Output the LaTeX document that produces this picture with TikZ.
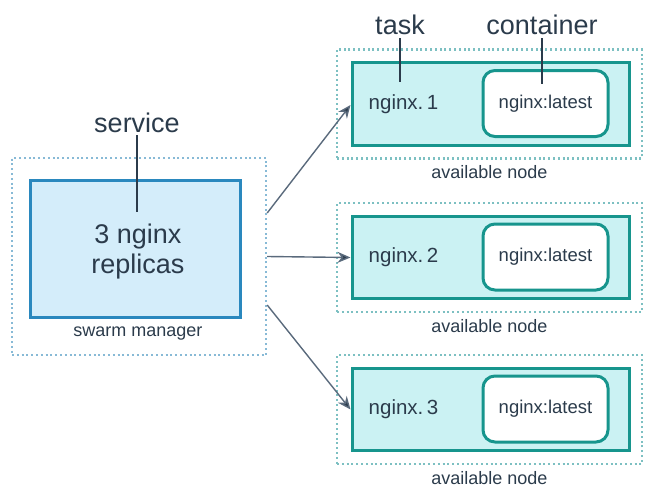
\documentclass[tikz,border=0pt]{standalone}
\usepackage{fontspec}
\setmainfont{Liberation Sans}
\usetikzlibrary{positioning,arrows.meta}

\definecolor{mgrdots}{HTML}{88BAD6}
\definecolor{nodedots}{HTML}{7DC0C2}
\definecolor{svcfill}{HTML}{D4EDFA}
\definecolor{svcline}{HTML}{2A88BE}
\definecolor{taskfill}{HTML}{CBF2F3}
\definecolor{taskline}{HTML}{17958D}
\definecolor{ink}{HTML}{2B3B4B}
\definecolor{wire}{HTML}{5A6A7C}

\tikzset{
  dotbox/.style={draw=#1, line width=2.4pt, dash pattern=on 2pt off 2.8pt,
    inner sep=0pt},
  svcbox/.style={draw=svcline, fill=svcfill, line width=3pt, inner sep=0pt},
  taskbox/.style={draw=taskline, fill=taskfill, line width=3pt, inner sep=0pt,
    minimum width=277pt, minimum height=82pt},
  contbox/.style={draw=taskline, fill=white, line width=3pt, rounded corners=12pt,
    inner sep=0pt, minimum width=125pt, minimum height=66pt,
    font=\fontsize{18.5}{20}\selectfont},
  biglabel/.style={font=\fontsize{27}{30}\selectfont, inner sep=3pt, anchor=base},
  smalllabel/.style={font=\fontsize{18}{20}\selectfont, inner sep=0pt},
  pointer/.style={draw=ink, line width=1.3pt},
  dispatch/.style={draw=wire, line width=1.4pt,
    -{Stealth[length=13pt,width=11pt,fill=ink]}},
}

\begin{document}
\begin{tikzpicture}[x=1pt,y=-1pt,text=ink]
  \useasboundingbox (0,0) rectangle (650,495);

  % swarm manager and its service
  \node[dotbox=mgrdots, minimum width=254pt, minimum height=197pt] (manager) at (139,256.5) {};
  \node[svcbox, minimum width=210pt, minimum height=137pt] (svc) at (135,248.5) {};
  \node[align=center, font=\fontsize{27}{30}\selectfont, inner sep=0pt] (svctext) at (138,252) {3 nginx\\replicas};
  \node[smalllabel] (mgrlabel) at (138,334) {swarm manager};

  \node[biglabel] (servicelbl) at (137,132) {service};
  \coordinate (svctip) at (137,212);
  \draw[pointer] (servicelbl.south) -- (svctip);

  % available nodes
  \foreach \i/\y in {1/104,2/257.5,3/409.5}{
    \node[dotbox=nodedots, minimum width=305pt, minimum height=109pt] (avail\i) at (489.5,\y) {};
    \node[taskbox] (task\i) at (490.5,\y) {};
    \node[contbox] (cont\i) at (545.5,\y-0.5) {nginx:latest};
    \node[font=\fontsize{20.5}{22}\selectfont, inner sep=0pt, right=18pt of task\i.west] (tasktext\i) {nginx.\,\i};
    \node[smalllabel, below=6pt of avail\i.south] (availlbl\i) {available node};
  }

  % task / container labels
  \node[biglabel] (tasklbl) at (400,35) {task};
  \coordinate (tasktip) at (400,82);
  \draw[pointer] (tasklbl.south) -- (tasktip);
  \node[biglabel] (contlbl) at (542,35) {container};
  \coordinate (conttip) at (542,84);
  \draw[pointer] (contlbl.south) -- (conttip);

  % scheduling arrows
  \draw[dispatch] ([yshift=43.5pt]manager.east) -- ([yshift=-1pt]task1.west);
  \draw[dispatch] (manager.east) -- (task2.west);
  \draw[dispatch] ([yshift=-48.5pt]manager.east) -- (task3.west);
\end{tikzpicture}
\end{document}
